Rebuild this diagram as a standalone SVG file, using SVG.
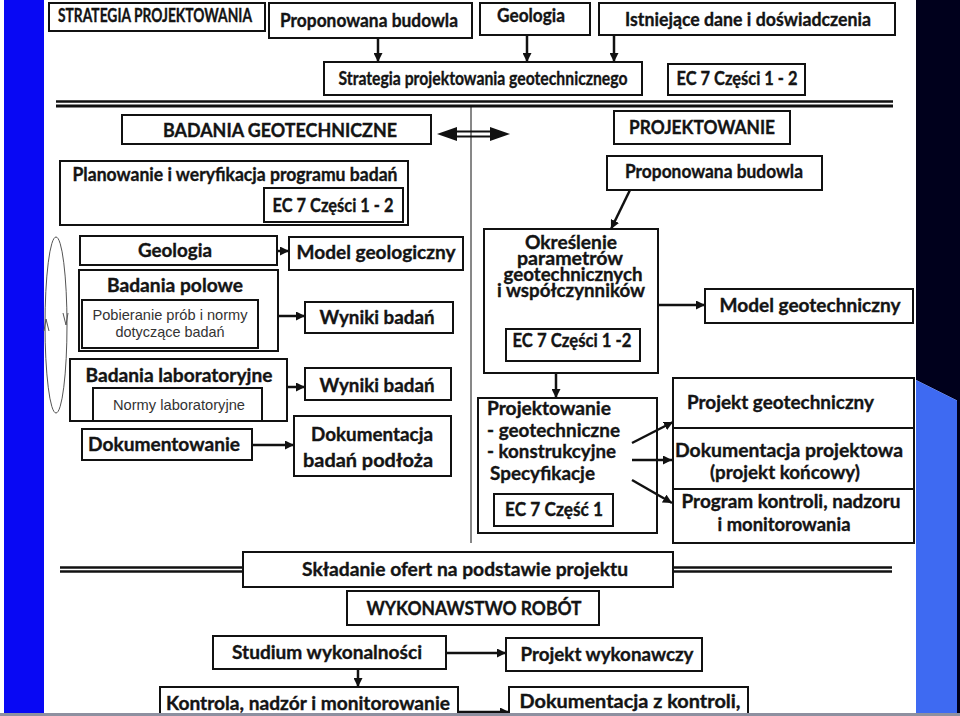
<svg xmlns="http://www.w3.org/2000/svg" width="960" height="716" viewBox="0 0 960 716">
<style>
.b{fill:#fff;stroke:#111;stroke-width:2}
.t{font-family:Lato,"Open Sans","DejaVu Sans",sans-serif;font-weight:700;font-size:18.5px;fill:#141414;stroke:#141414;stroke-width:0.35;text-anchor:middle}
.s{text-anchor:start}
.n{font-family:"Liberation Sans",Arial,sans-serif;font-size:15px;fill:#333;text-anchor:middle}
.c{stroke:#111;stroke-width:2.5;fill:none}
.dl{stroke:#111;fill:none}
</style>
<defs>
<marker id="ah" viewBox="0 0 10 10" refX="10" refY="5" markerWidth="9" markerHeight="9" markerUnits="userSpaceOnUse" orient="auto">
<path d="M0,0 L10,5 L0,10 z" fill="#111"/>
</marker>
</defs>
<rect x="0" y="0" width="960" height="716" fill="#fff"/>
<rect x="4" y="0" width="40" height="714" fill="#0808f4"/>
<polygon points="916,0 960,0 960,402 916,380" fill="#00001c"/>
<polygon points="916,380 960,402 960,714 916,714" fill="#3e6af2"/>
<rect x="957" y="0" width="3" height="714" fill="#00001c"/>

<g id="separators">
<line class="dl" x1="56" y1="101.5" x2="893" y2="101.5" stroke-width="2.5"/>
<line class="dl" x1="56" y1="106" x2="893" y2="106" stroke-width="3"/>
<line class="dl" x1="471" y1="106" x2="471" y2="543" stroke-width="1" stroke="#444"/>
<line class="dl" x1="60" y1="567.5" x2="243" y2="567.5" stroke-width="2.5"/>
<line class="dl" x1="60" y1="571.5" x2="243" y2="571.5" stroke-width="2.5"/>
<line class="dl" x1="673" y1="567.5" x2="892" y2="567.5" stroke-width="2.5"/>
<line class="dl" x1="673" y1="571.5" x2="892" y2="571.5" stroke-width="2.5"/>
</g>

<g id="n-strategia-title"><rect class="b" x="49" y="3" width="216" height="28"/><text class="t" x="155" y="22" font-size="13.5" textLength="194" lengthAdjust="spacingAndGlyphs">STRATEGIA PROJEKTOWANIA</text></g>
<g id="n-proponowana-top"><rect class="b" x="269" y="3" width="203" height="35"/><text class="t" x="369" y="27" textLength="178" lengthAdjust="spacingAndGlyphs">Proponowana budowla</text></g>
<g id="n-geologia-top"><rect class="b" x="480" y="3" width="110" height="32"/><text class="t" x="531" y="22" textLength="68" lengthAdjust="spacingAndGlyphs">Geologia</text></g>
<g id="n-istniejace"><rect class="b" x="599" y="3" width="296" height="32"/><text class="t" x="748" y="26" textLength="246" lengthAdjust="spacingAndGlyphs">Istniejące dane i doświadczenia</text></g>
<g id="n-strategia-geo"><rect class="b" x="324" y="62" width="318" height="33"/><text class="t" x="483" y="85" font-size="16.5" textLength="289" lengthAdjust="spacingAndGlyphs">Strategia projektowania geotechnicznego</text></g>
<g id="n-ec7-top"><rect class="b" x="668" y="64" width="137" height="31"/><text class="t" x="737" y="85" font-size="17" textLength="121" lengthAdjust="spacingAndGlyphs">EC 7 Części 1 - 2</text></g>

<g id="n-badania-geo"><rect class="b" x="122" y="115" width="309" height="29"/><text class="t" x="280" y="137" textLength="234" lengthAdjust="spacingAndGlyphs">BADANIA GEOTECHNICZNE</text></g>
<g id="n-projektowanie-title"><rect class="b" x="614" y="111" width="176" height="33"/><text class="t" x="702" y="134" textLength="146" lengthAdjust="spacingAndGlyphs">PROJEKTOWANIE</text></g>
<g id="n-proponowana-right"><rect class="b" x="607" y="156" width="215" height="34"/><text class="t" x="714" y="178" textLength="178" lengthAdjust="spacingAndGlyphs">Proponowana budowla</text></g>

<g id="n-planowanie"><rect class="b" x="60" y="161" width="348" height="64"/><text class="t" x="235" y="181" textLength="325" lengthAdjust="spacingAndGlyphs">Planowanie i weryfikacja programu badań</text>
<rect class="b" x="264" y="188" width="139" height="34"/><text class="t" x="333" y="212" textLength="121" lengthAdjust="spacingAndGlyphs">EC 7 Części 1 - 2</text></g>

<g id="n-cycle">
<ellipse cx="56" cy="325" rx="11" ry="88" fill="none" stroke="#555" stroke-width="1"/>
<polyline points="44,331 46,319 49,331" fill="none" stroke="#555" stroke-width="1"/>
<polyline points="63,313 66,325 68,313" fill="none" stroke="#555" stroke-width="1"/>
</g>

<g id="n-geologia-left"><rect class="b" x="80" y="236" width="197" height="29"/><text class="t" x="175" y="257" textLength="74" lengthAdjust="spacingAndGlyphs">Geologia</text></g>
<g id="n-model-geol"><rect class="b" x="289" y="237" width="174" height="33"/><text class="t" x="376" y="259" textLength="159" lengthAdjust="spacingAndGlyphs">Model geologiczny</text></g>
<g id="n-badania-polowe"><rect class="b" x="79" y="270" width="199" height="81"/><text class="t" x="175" y="292" font-size="19.5" textLength="136" lengthAdjust="spacingAndGlyphs">Badania polowe</text>
<rect class="b" x="82" y="300" width="176" height="48"/><text class="n" x="170" y="320" textLength="155" lengthAdjust="spacingAndGlyphs">Pobieranie prób i normy</text><text class="n" x="170" y="337" textLength="109" lengthAdjust="spacingAndGlyphs">dotyczące badań</text></g>
<g id="n-wyniki1"><rect class="b" x="305" y="302" width="148" height="31"/><text class="t" x="377" y="324" textLength="115" lengthAdjust="spacingAndGlyphs">Wyniki badań</text></g>
<g id="n-badania-lab"><rect class="b" x="70" y="359" width="217" height="62"/><text class="t" x="179" y="382" textLength="187" lengthAdjust="spacingAndGlyphs">Badania laboratoryjne</text>
<rect class="b" x="93" y="388" width="169" height="33"/><text class="n" x="179" y="410" textLength="132" lengthAdjust="spacingAndGlyphs">Normy laboratoryjne</text></g>
<g id="n-wyniki2"><rect class="b" x="305" y="368" width="146" height="32"/><text class="t" x="377" y="392" textLength="115" lengthAdjust="spacingAndGlyphs">Wyniki badań</text></g>
<g id="n-dokumentowanie"><rect class="b" x="82" y="429" width="170" height="31"/><text class="t" x="164" y="451" textLength="152" lengthAdjust="spacingAndGlyphs">Dokumentowanie</text></g>
<g id="n-dokumentacja-badan"><rect class="b" x="294" y="416" width="157" height="60"/><text class="t" x="372" y="441" textLength="122" lengthAdjust="spacingAndGlyphs">Dokumentacja</text><text class="t" x="368" y="467" textLength="130" lengthAdjust="spacingAndGlyphs">badań podłoża</text></g>

<g id="n-okreslenie"><rect class="b" x="484" y="229" width="174" height="144"/>
<text class="t" font-size="18"><tspan x="571" y="249" textLength="92" lengthAdjust="spacingAndGlyphs">Określenie</tspan><tspan x="570" y="264.5" textLength="106" lengthAdjust="spacingAndGlyphs">parametrów</tspan><tspan x="573" y="280.5" textLength="139" lengthAdjust="spacingAndGlyphs">geotechnicznych</tspan><tspan x="571" y="296.5" textLength="148" lengthAdjust="spacingAndGlyphs">i współczynników</tspan></text>
<rect class="b" x="506" y="329" width="134" height="32"/><text class="t" x="572" y="347" textLength="119" lengthAdjust="spacingAndGlyphs">EC 7 Części 1 -2</text></g>
<g id="n-model-geot"><rect class="b" x="705" y="289" width="208" height="34"/><text class="t" x="810" y="312" textLength="181" lengthAdjust="spacingAndGlyphs">Model geotechniczny</text></g>
<g id="n-projektowanie"><rect class="b" x="478" y="398" width="179" height="135"/>
<text class="t s" x="487" y="415" textLength="124" lengthAdjust="spacingAndGlyphs">Projektowanie</text>
<text class="t s" x="487" y="437" textLength="133" lengthAdjust="spacingAndGlyphs">- geotechniczne</text>
<text class="t s" x="487" y="458" textLength="129" lengthAdjust="spacingAndGlyphs">- konstrukcyjne</text>
<text class="t s" x="490" y="480" textLength="105" lengthAdjust="spacingAndGlyphs">Specyfikacje</text>
<rect class="b" x="494" y="494" width="119" height="32"/><text class="t" x="554" y="516" textLength="98" lengthAdjust="spacingAndGlyphs">EC 7 Część 1</text></g>
<g id="n-projekt-geot"><rect class="b" x="673" y="378" width="241" height="50"/><text class="t s" x="687" y="409" textLength="187" lengthAdjust="spacingAndGlyphs">Projekt geotechniczny</text></g>
<g id="n-dok-projektowa"><rect class="b" x="673" y="428" width="241" height="61"/><text class="t" x="789" y="457" textLength="228" lengthAdjust="spacingAndGlyphs">Dokumentacja projektowa</text><text class="t" x="785" y="479" textLength="150" lengthAdjust="spacingAndGlyphs">(projekt końcowy)</text></g>
<g id="n-program"><rect class="b" x="673" y="489" width="241" height="54"/><text class="t" x="791" y="508" textLength="219" lengthAdjust="spacingAndGlyphs">Program kontroli, nadzoru</text><text class="t" x="784" y="531" textLength="133" lengthAdjust="spacingAndGlyphs">i monitorowania</text></g>

<g id="n-skladanie"><rect class="b" x="243" y="552" width="430" height="35"/><text class="t" x="465" y="576" textLength="326" lengthAdjust="spacingAndGlyphs">Składanie ofert na podstawie projektu</text></g>
<g id="n-wykonawstwo"><rect class="b" x="347" y="591" width="252" height="34"/><text class="t" x="474" y="615" textLength="215" lengthAdjust="spacingAndGlyphs">WYKONAWSTWO ROBÓT</text></g>
<g id="n-studium"><rect class="b" x="213" y="636" width="233" height="33"/><text class="t" x="327" y="659" textLength="190" lengthAdjust="spacingAndGlyphs">Studium wykonalności</text></g>
<g id="n-projekt-wyk"><rect class="b" x="506" y="638" width="196" height="33"/><text class="t" x="607" y="661" textLength="173" lengthAdjust="spacingAndGlyphs">Projekt wykonawczy</text></g>
<g id="n-kontrola"><rect class="b" x="160" y="687" width="298" height="40"/><text class="t" x="308" y="710" textLength="284" lengthAdjust="spacingAndGlyphs">Kontrola, nadzór i monitorowanie</text></g>
<g id="n-dok-kontroli"><rect class="b" x="509" y="687" width="239" height="40"/><text class="t" x="630" y="708" textLength="221" lengthAdjust="spacingAndGlyphs">Dokumentacja z kontroli,</text></g>

<g id="connectors">
<line class="c" x1="378" y1="38" x2="378" y2="62" marker-end="url(#ah)"/>
<line class="c" x1="527" y1="35" x2="527" y2="62" marker-end="url(#ah)"/>
<line class="c" x1="614" y1="35" x2="614" y2="62" marker-end="url(#ah)"/>
<g id="double-arrow">
<line class="dl" x1="452" y1="131.5" x2="496" y2="131.5" stroke-width="1.8"/>
<line class="dl" x1="452" y1="136.5" x2="496" y2="136.5" stroke-width="1.8"/>
<polygon points="437,134 457,127 457,141" fill="#111"/>
<polygon points="510,134 490,127 490,141" fill="#111"/>
</g>
<line class="c" x1="630" y1="190" x2="611" y2="229" marker-end="url(#ah)"/>
<line class="c" x1="277" y1="251" x2="289" y2="251" marker-end="url(#ah)"/>
<line class="c" x1="278" y1="316" x2="305" y2="316" marker-end="url(#ah)"/>
<line class="c" x1="287" y1="387" x2="305" y2="387" marker-end="url(#ah)"/>
<line class="c" x1="252" y1="445" x2="294" y2="445" marker-end="url(#ah)"/>
<line class="c" x1="658" y1="305" x2="705" y2="305" marker-end="url(#ah)"/>
<line class="c" x1="556" y1="373" x2="556" y2="398" marker-end="url(#ah)"/>
<line class="c" x1="632" y1="443" x2="673" y2="422" marker-end="url(#ah)"/>
<line class="c" x1="632" y1="460" x2="672" y2="460" marker-end="url(#ah)"/>
<line class="c" x1="632" y1="480" x2="672" y2="503" marker-end="url(#ah)"/>
<line class="c" x1="446" y1="653" x2="506" y2="653" marker-end="url(#ah)"/>
<line class="c" x1="358" y1="669" x2="358" y2="687" marker-end="url(#ah)"/>
<line class="c" x1="458" y1="712" x2="509" y2="712" marker-end="url(#ah)"/>
</g>
<rect x="0" y="713" width="960" height="3" fill="#8e90a0"/>
</svg>
